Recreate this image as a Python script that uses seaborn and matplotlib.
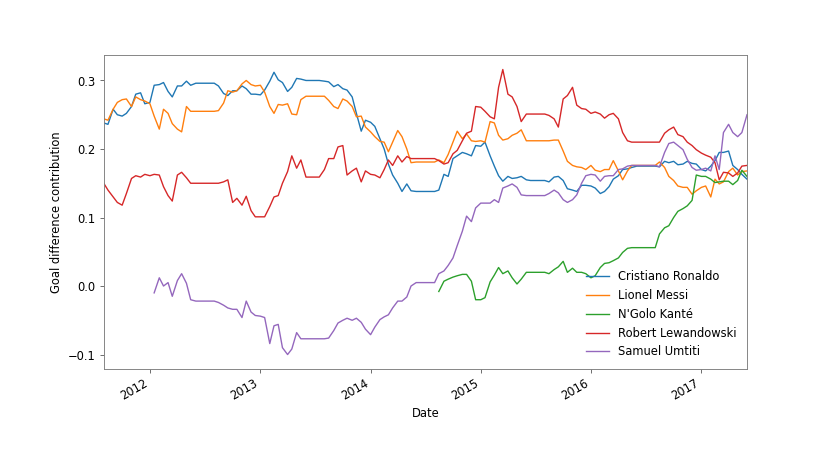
import numpy as np
import pandas as pd
import seaborn as sns
import matplotlib
matplotlib.use('Agg')
import matplotlib.pyplot as plt
import matplotlib.dates as mdates

# half-monthly dates (1st and 15th)
dates = pd.date_range('2011-08-01', '2017-06-01', freq='SMS')

players = ['Cristiano Ronaldo', 'Lionel Messi', "N'Golo Kanté",
           'Robert Lewandowski', 'Samuel Umtiti']

ronaldo = [0.238, 0.236, 0.258, 0.250, 0.248, 0.252, 0.262, 0.280, 0.282, 0.266,
           0.268, 0.293, 0.294, 0.297, 0.284, 0.276, 0.292, 0.292, 0.299, 0.293,
           0.296, 0.296, 0.296, 0.296, 0.296,
           0.292, 0.281, 0.278, 0.285, 0.285, 0.292, 0.288, 0.280, 0.280, 0.279,
           0.286, 0.299, 0.312, 0.301, 0.297, 0.284, 0.290, 0.303, 0.302, 0.300,
           0.300, 0.300, 0.300,
           0.299, 0.298, 0.291, 0.294, 0.288, 0.286, 0.276, 0.252, 0.226, 0.242,
           0.239, 0.233, 0.215, 0.200, 0.178, 0.162, 0.150, 0.138, 0.149, 0.139,
           0.138, 0.138, 0.138,
           0.138, 0.138, 0.140, 0.163, 0.160, 0.186, 0.190, 0.195, 0.193, 0.190,
           0.205, 0.204, 0.210, 0.190, 0.175, 0.161, 0.153, 0.160, 0.157, 0.158,
           0.160, 0.155,
           0.154, 0.154, 0.154, 0.154, 0.152, 0.159, 0.160, 0.154, 0.142, 0.140,
           0.138, 0.147, 0.147, 0.146, 0.143, 0.135, 0.138, 0.145, 0.156, 0.161,
           0.170, 0.171, 0.173,
           0.175, 0.175, 0.175, 0.175, 0.175, 0.174, 0.182, 0.180, 0.182, 0.177,
           0.178, 0.182, 0.179, 0.178, 0.170, 0.168, 0.175, 0.183, 0.195, 0.195,
           0.197, 0.176, 0.170, 0.163, 0.156]

messi = [0.244, 0.242, 0.258, 0.268, 0.272, 0.273, 0.262, 0.276, 0.272, 0.270,
         0.266, 0.248, 0.229, 0.258, 0.252, 0.237, 0.229, 0.225, 0.262, 0.255,
         0.255, 0.255, 0.255, 0.255, 0.255,
         0.256, 0.267, 0.285, 0.283, 0.285, 0.295, 0.300, 0.294, 0.292, 0.293,
         0.283, 0.262, 0.252, 0.265, 0.264, 0.266, 0.251, 0.250, 0.272, 0.277,
         0.277, 0.277, 0.277,
         0.277, 0.271, 0.262, 0.259, 0.273, 0.270, 0.262, 0.247, 0.248, 0.232,
         0.225, 0.218, 0.211, 0.210, 0.196, 0.210, 0.227, 0.218, 0.200, 0.180,
         0.181, 0.181, 0.181,
         0.181, 0.181, 0.184, 0.180, 0.192, 0.210, 0.226, 0.215, 0.222, 0.212,
         0.211, 0.212, 0.210, 0.240, 0.238, 0.220, 0.213, 0.215, 0.220, 0.223,
         0.228, 0.212,
         0.212, 0.212, 0.212, 0.212, 0.212, 0.213, 0.213, 0.197, 0.182, 0.176,
         0.174, 0.173, 0.170, 0.176, 0.169, 0.167, 0.170, 0.170, 0.183, 0.168,
         0.155, 0.168, 0.176,
         0.176, 0.176, 0.176, 0.176, 0.176, 0.181, 0.173, 0.160, 0.154, 0.146,
         0.144, 0.144, 0.134, 0.139, 0.144, 0.146, 0.130, 0.156, 0.149, 0.152,
         0.167, 0.172, 0.162, 0.167, 0.168]

# Kante has no data before mid 2014
kante = [np.nan] * 73 + [
         -0.008, 0.007, 0.010, 0.013, 0.015, 0.017, 0.017, 0.007, -0.020, -0.020,
         -0.017, 0.006, 0.016, 0.027, 0.018, 0.022, 0.012, 0.003, 0.010, 0.020,
         0.020, 0.020, 0.020, 0.020, 0.018, 0.024, 0.028, 0.036, 0.020, 0.026,
         0.020, 0.020, 0.018, 0.012, 0.015, 0.027, 0.033, 0.034, 0.037, 0.041,
         0.049, 0.055, 0.056,
         0.056, 0.056, 0.056, 0.056, 0.056, 0.076, 0.085, 0.088, 0.100, 0.109,
         0.113, 0.117, 0.125, 0.162, 0.160, 0.160, 0.156, 0.151, 0.152, 0.153,
         0.153, 0.148, 0.154, 0.169, 0.160]

lewandowski = [0.150, 0.140, 0.130, 0.122, 0.118, 0.135, 0.157, 0.161, 0.159, 0.163,
               0.161, 0.163, 0.162, 0.145, 0.132, 0.124, 0.162, 0.166, 0.158, 0.150,
               0.150, 0.150, 0.150, 0.150, 0.150,
               0.150, 0.152, 0.155, 0.122, 0.128, 0.118, 0.131, 0.110, 0.101, 0.101,
               0.101, 0.116, 0.130, 0.132, 0.150, 0.167, 0.190, 0.172, 0.184, 0.159,
               0.159, 0.159, 0.159,
               0.170, 0.186, 0.186, 0.203, 0.205, 0.162, 0.168, 0.172, 0.152, 0.168,
               0.163, 0.162, 0.158, 0.170, 0.184, 0.176, 0.190, 0.181, 0.189, 0.186,
               0.186, 0.186, 0.186,
               0.186, 0.186, 0.183, 0.178, 0.180, 0.193, 0.198, 0.212, 0.223, 0.226,
               0.262, 0.261, 0.255, 0.247, 0.244, 0.290, 0.316, 0.280, 0.276, 0.262,
               0.240, 0.251,
               0.251, 0.251, 0.251, 0.251, 0.249, 0.244, 0.232, 0.273, 0.278, 0.290,
               0.264, 0.259, 0.258, 0.252, 0.254, 0.251, 0.245, 0.250, 0.252, 0.244,
               0.224, 0.212, 0.210,
               0.210, 0.210, 0.210, 0.210, 0.210, 0.210, 0.223, 0.228, 0.232, 0.221,
               0.218, 0.210, 0.205, 0.199, 0.194, 0.191, 0.188, 0.180, 0.155, 0.166,
               0.165, 0.160, 0.165, 0.175, 0.176]

# Umtiti starts in early 2012
umtiti = [np.nan] * 11 + [
          -0.010, 0.012, 0.000, 0.005, -0.015, 0.008, 0.018, 0.004, -0.020, -0.022,
          -0.022, -0.022, -0.022, -0.022,
          -0.024, -0.028, -0.032, -0.034, -0.034, -0.046, -0.022, -0.038, -0.043, -0.044,
          -0.046, -0.084, -0.058, -0.056, -0.090, -0.100, -0.092, -0.068, -0.077, -0.077,
          -0.077, -0.077, -0.077,
          -0.077, -0.076, -0.065, -0.054, -0.050, -0.047, -0.050, -0.047, -0.053, -0.063,
          -0.071, -0.060, -0.049, -0.045, -0.042, -0.032, -0.022, -0.022, -0.016, 0.000,
          0.005, 0.005, 0.005,
          0.005, 0.005, 0.018, 0.022, 0.030, 0.041, 0.059, 0.080, 0.102, 0.094,
          0.114, 0.121, 0.121, 0.121, 0.126, 0.122, 0.143, 0.146, 0.149, 0.144,
          0.133, 0.132,
          0.132, 0.132, 0.132, 0.132, 0.135, 0.140, 0.136, 0.126, 0.122, 0.126,
          0.133, 0.150, 0.161, 0.163, 0.162, 0.153, 0.160, 0.161, 0.161, 0.170,
          0.171, 0.175, 0.176,
          0.176, 0.176, 0.176, 0.176, 0.176, 0.174, 0.195, 0.208, 0.210, 0.205,
          0.199, 0.185, 0.173, 0.169, 0.170, 0.172, 0.168, 0.190, 0.170, 0.224,
          0.236, 0.224, 0.218, 0.224, 0.250]

df = pd.DataFrame({'Date': dates,
                   players[0]: ronaldo,
                   players[1]: messi,
                   players[2]: kante,
                   players[3]: lewandowski,
                   players[4]: umtiti})

long = df.melt(id_vars='Date', var_name='Player',
               value_name='Goal difference contribution').dropna()

plt.rcParams['axes.edgecolor'] = '0.5'

# 10in wide at 83 dpi -> 830 x 461 px
fig, ax = plt.subplots(figsize=(10, 5.555), dpi=83)

sns.lineplot(data=long, x='Date', y='Goal difference contribution',
             hue='Player', hue_order=players,
             palette=sns.color_palette('tab10', 5),
             linewidth=1.2, estimator=None, ax=ax)

ax.set_xlim(dates[0], dates[-1])
ax.xaxis.set_major_locator(mdates.YearLocator())
ax.xaxis.set_major_formatter(mdates.DateFormatter('%Y'))
ax.tick_params(color='0.4')

handles, labels = ax.get_legend_handles_labels()
ax.legend(handles, labels, loc='lower right', frameon=False)

fig.autofmt_xdate()

plt.savefig('out.png', dpi=83)
